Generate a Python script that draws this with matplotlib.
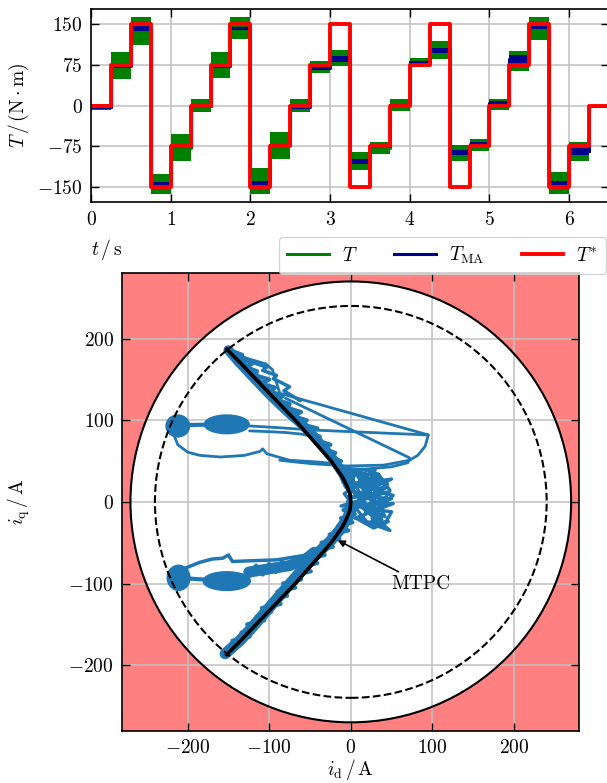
import matplotlib
matplotlib.use("Agg")
import matplotlib.pyplot as plt
from matplotlib.patches import Circle, Ellipse

plt.rcParams.update({
    "font.family": "serif",
    "font.serif": ["cmr10"],
    "mathtext.fontset": "cm",
    "axes.formatter.use_mathtext": True,
    "font.size": 14,
})

# ---------------- torque step test ----------------
step_edges = [0.0, 0.25, 0.5, 0.75, 1.0, 1.25, 1.5, 1.75, 2.0, 2.25, 2.5, 2.75, 3.0,
              3.25, 3.5, 3.75, 4.0, 4.25, 4.5, 4.75, 5.0, 5.25, 5.5, 5.75, 6.0, 6.25, 6.5]
T_ref = [0, 75, 150, -150, -75, 0, 75, 150, -150, -75, 0, 75, 150,
         -150, -75, 0, 75, 150, -150, -75, 0, 75, 150, -150, -75, 0]
# measured torque: ripple band per step (min / max)
T_lo = [-8, 50, 112, -163, -102, -12, 51, 124, -163, -98, -12, 61, 73,
        -119, -88, -10, 72, 86, -102, -84, -7, 65, 122, -163, -102]
T_hi = [4, 100, 163, -125, -52, 12, 100, 163, -115, -48, 12, 83, 103,
        -86, -67, 13, 88, 120, -73, -61, 12, 102, 163, -122, -66]
# moving average of the measured torque (min / max per step)
MA_lo = [-3, 71, 138, -146, -76, -2, 71, 141, -145, -74, -5, 68, 81,
         -107, -76, -1, 78, 98, -90, -73, 4, 78, 141, -145, -90, -2]
MA_hi = [-1, 74, 147, -141, -72, 2, 75, 146, -139, -70, -1, 72, 91,
         -99, -73, 4, 83, 106, -82, -67, 8, 94, 148, -139, -78, 0]

# ---------------- current plane ----------------
r_limit = 270
r_dashed = 240
mtpc_iq = [187, 170, 150, 125, 100, 75, 50, 40, 30, 20, 10, 0,
           -10, -20, -30, -40, -50, -75, -100, -125, -150, -170, -187]
mtpc_id = [-152, -135, -116, -92, -68, -46, -24, -17, -10, -5, -1, 0,
           -1, -5, -10, -17, -24, -46, -68, -92, -116, -135, -152]

# dense operating points (centre, width, height)
blob_id = [-212, -152, -211, -152]
blob_iq = [93, 95, -93, -97]
blob_w = [28, 54, 27, 57]
blob_h = [26, 22, 30, 22]

# thin trajectory strokes
loopA_id = [-212, -216, -212, -200, -185, -160, -130, -111, -108, -103, -75, -42, -20]
loopA_iq = [90, 80, 70, 61, 57, 55, 57, 62, 65, 59, 51, 49, 47]
outer_id = [-150, -128, -104, -96, -87, 95, 91, 82, 72, 40, -5, -50, -87]
outer_iq = [186, 176, 169, 162, 133, 82, 68, 57, 51, 45, 44, 47, 51]
inner_id = [-80, 72, 70, 50, 15, -20]
inner_iq = [127, 54, 48, 43, 40, 42]
bridge_id = [-124, -90, -46, 95]
bridge_iq = [93, 91, 88, 82]
bridge2_id = [-124, -100, -80, -60, -45]
bridge2_iq = [87, 86, 85, 83, 80]
zigtop_id = [-148, -115, -103, -108, -91, -95, -75, -82, -62]
zigtop_iq = [184, 169, 165, 161, 155, 151, 141, 136, 124]
link_up_id = [-212, -152]
link_up_iq = [94, 95]
link_lo_id = [-211, -152]
link_lo_iq = [-93, -97]
lowtop_id = [-205, -185, -170, -157, -150, -145, -120, -91, -60, -34]
lowtop_iq = [-82, -74, -70, -69, -65, -73, -72, -71, -66, -62]

# ripple bands: a thick core plus a jagged edge
core_up_id = [-150, -138, -122, -106, -90, -75, -60, -45, -32, -20, -10, -3]
core_up_iq = [186, 172, 155, 138, 122, 108, 95, 80, 65, 50, 35, 20]
band_up_id = [-148, -133, -137, -120, -128, -115, -117, -100, -110, -93, -98, -83,
              -90, -75, -77, -61, -71, -54, -60, -41, -52, -38, -40, -25, -33, -19,
              -25, -12, -16, -2, -9, 1, -4, 7, 0, 9]
band_up_iq = [186, 180, 175, 170, 165, 160, 155, 150, 145, 140, 135, 130, 125, 120,
              115, 110, 105, 100, 95, 90, 85, 80, 75, 70, 65, 60, 55, 50, 45, 40,
              35, 30, 25, 20, 15, 10]
core_lo_id = [2, -4, -14, -25, -40, -55, -70, -83, -96, -109, -122, -136, -154]
core_lo_iq = [-5, -20, -35, -48, -62, -78, -95, -110, -125, -140, -155, -170, -186]
band_lo_id = [6, -9, 5, -12, 2, -16, -3, -26, -14, -36, -22, -43, -32, -54, -41,
              -64, -49, -71, -61, -83, -68, -90, -78, -97, -86, -109, -98, -115,
              -106, -127, -117, -134, -124, -145, -137, -152, -151]
band_lo_iq = [-5, -10, -15, -20, -25, -30, -35, -40, -45, -50, -55, -60, -65, -70,
              -75, -80, -85, -90, -95, -100, -105, -110, -115, -120, -125, -130,
              -135, -140, -145, -150, -155, -160, -165, -170, -175, -180, -186]
core_h_id = [-125, -100, -75, -55, -45]
core_h_iq = [-86, -82, -78, -70, -62]
band_h_id = [-124, -116, -108, -100, -92, -84, -76, -68, -60, -52, -46]
band_h_iq = [-91, -78, -89, -76, -86, -73, -82, -71, -76, -63, -58]
cloud_id = [-10, 35, -5, 50, 0, 45, -12, 52, 5, 40, 50, 15, 48, 20, -8, 30, 10, 45,
            -2, 25, 52, -10, 38, 5, -6, 28, 12, 42, -4]
cloud_iq = [42, 30, 20, 28, 5, 12, -5, -2, -20, -30, -12, -8, -35, -25, 10, 40, -2,
            22, 35, -15, 8, 25, -22, 38, -12, 18, 30, -18, 0]
cloud2_id = [0, 20, 8, 32, 15, 44, 25, 50, 30, 18, 40, 22, 46, 28, 10, 36, 4, 24,
             -6, 14, 34, 48, 26, 40, 12]
cloud2_iq = [38, 30, 22, 24, 14, 18, 6, 4, -4, -12, -16, -26, -24, -32, -22, 2,
             -8, 12, 28, 40, 34, 14, -20, -6, 10]

W, H = 607, 783
fig = plt.figure(figsize=(W / 100, H / 100), dpi=100)

grid_kw = dict(color="#c0c0c0", lw=1.1)
tick_kw = dict(direction="in", top=True, right=True, length=6, width=1.0, pad=6,
               labelsize=14)

# ---------- torque vs. time ----------
ax1 = fig.add_axes([91 / W, 1 - 202.3 / H, (609 - 91) / W, (202.3 - 9.3) / H])
ax1.set_axisbelow(True)
ax1.grid(True, **grid_kw)

n_T = len(T_lo)
tg = step_edges[:n_T + 1]
ax1.fill_between(tg, T_lo + [T_lo[-1]], T_hi + [T_hi[-1]], step="post",
                 color="green", lw=0, zorder=2)
T_mid = [(a + b) / 2 for a, b in zip(T_lo, T_hi)]
(l_T,) = ax1.plot(tg, T_mid + [T_mid[-1]], drawstyle="steps-post", color="green",
                  lw=2.2, zorder=2)
ax1.fill_between(step_edges, MA_lo + [MA_lo[-1]], MA_hi + [MA_hi[-1]], step="post",
                 color="darkblue", lw=0, zorder=3)
MA_mid = [(a + b) / 2 for a, b in zip(MA_lo, MA_hi)]
(l_MA,) = ax1.plot(step_edges, MA_mid + [MA_mid[-1]], drawstyle="steps-post",
                   color="darkblue", lw=2.2, zorder=3)
(l_ref,) = ax1.plot(step_edges, T_ref + [T_ref[-1]], drawstyle="steps-post",
                    color="red", lw=2.8, zorder=4)

ax1.set_xlim(0, 6.5)
ax1.set_ylim(-178, 178)
ax1.set_xticks([0, 1, 2, 3, 4, 5, 6])
ax1.set_yticks([-150, -75, 0, 75, 150])
ax1.tick_params(**tick_kw)
ax1.set_ylabel(r"$T\,/\,(\mathrm{N}\cdot\mathrm{m})$")
ax1.yaxis.set_label_coords(-0.115, 0.5)
ax1.set_xlabel(r"$t\,/\,\mathrm{s}$", loc="left")
ax1.xaxis.set_label_coords(0.0, -0.18)

fig.legend([l_T, l_MA, l_ref], [r"$T$", r"$T_{\mathrm{MA}}$", r"$T^{*}$"],
           loc="upper left", bbox_to_anchor=(279 / W, 1 - 237 / H), ncol=3,
           handlelength=2.15, handletextpad=0.67, columnspacing=1.9,
           borderaxespad=0, fontsize=14)

# ---------- current plane ----------
ax2 = fig.add_axes([122.3 / W, 1 - 730.5 / H, 457 / W, 457.2 / H])
ax2.set_facecolor("#ff8080")
ax2.add_patch(Circle((0, 0), r_limit, facecolor="white", edgecolor="none", zorder=0.1))
ax2.set_axisbelow(True)
ax2.grid(True, **grid_kw)

blue = "#1f77b4"
line_kw = dict(color=blue, solid_capstyle="round", solid_joinstyle="round", zorder=2)
for x, y, w, h in zip(blob_id, blob_iq, blob_w, blob_h):
    ax2.add_patch(Ellipse((x, y), w, h, facecolor=blue, edgecolor=blue, lw=1.5, zorder=2))
for xs, ys, lw in [
    (core_up_id, core_up_iq, 7.0),
    (band_up_id, band_up_iq, 3.0),
    (core_lo_id, core_lo_iq, 8.0),
    (band_lo_id, band_lo_iq, 3.0),
    (core_h_id, core_h_iq, 8.0),
    (band_h_id, band_h_iq, 3.0),
    (cloud_id, cloud_iq, 2.4),
    (cloud2_id, cloud2_iq, 2.4),
    (loopA_id, loopA_iq, 2.0),
    (outer_id, outer_iq, 2.0),
    (inner_id, inner_iq, 2.0),
    (bridge_id, bridge_iq, 2.0),
    (bridge2_id, bridge2_iq, 2.0),
    (zigtop_id, zigtop_iq, 2.5),
    (link_up_id, link_up_iq, 3.0),
    (link_lo_id, link_lo_iq, 3.0),
    (lowtop_id, lowtop_iq, 2.5),
]:
    ax2.plot(xs, ys, lw=lw, **line_kw)

ax2.plot(mtpc_id, mtpc_iq, color="black", lw=2.6, zorder=4)
ax2.add_patch(Circle((0, 0), r_limit, fill=False, edgecolor="black", lw=1.5, zorder=5))
ax2.add_patch(Circle((0, 0), r_dashed, fill=False, edgecolor="black", lw=1.5,
                     ls="--", zorder=5))
ax2.annotate("MTPC", xy=(-16, -47), xytext=(50, -100), ha="left", va="center",
             fontsize=14, zorder=6,
             arrowprops=dict(arrowstyle="-|>", color="black", lw=1.2,
                             shrinkA=0, shrinkB=0, mutation_scale=10))

ax2.set_xlim(-280, 280)
ax2.set_ylim(-280, 280)
ax2.set_xticks([-200, -100, 0, 100, 200])
ax2.set_yticks([-200, -100, 0, 100, 200])
ax2.tick_params(**tick_kw)
ax2.set_xlabel(r"$i_{\mathrm{d}}\,/\,\mathrm{A}$")
ax2.xaxis.set_label_coords(0.5, -0.057)
ax2.set_ylabel(r"$i_{\mathrm{q}}\,/\,\mathrm{A}$")
ax2.yaxis.set_label_coords(-0.198, 0.5)

for ax in (ax1, ax2):
    for s in ax.spines.values():
        s.set_linewidth(1.2)
        s.set_zorder(7)

fig.savefig("out.png", dpi=100)
